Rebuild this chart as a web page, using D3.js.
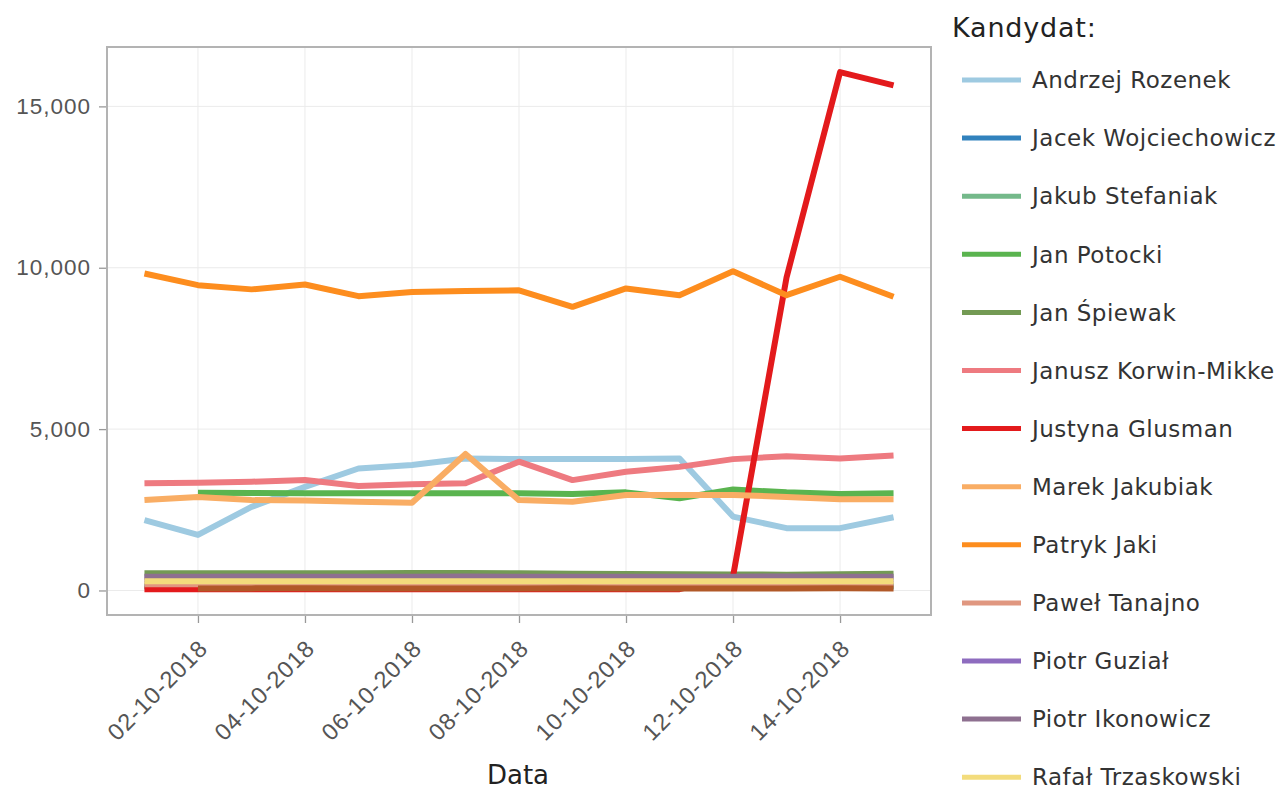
<!DOCTYPE html>
<html lang="pl">
<head>
<meta charset="utf-8">
<title>Kandydat</title>
<script src="https://cdn.jsdelivr.net/npm/d3@7"></script>
<style>
    body { margin: 0; background: #fff; }
    svg { display: block; font-family: "DejaVu Sans", Verdana, sans-serif; }
    .grid line { stroke: #ebebeb; stroke-width: 1; }
    .axis path { display: none; }
    .axis line { stroke: #999; stroke-width: 1.3; }
    .axis text { fill: #555; font-size: 22.5px; letter-spacing: 1px; }
    .axis.x text { font-size: 23.5px; }
</style>
</head>
<body>
<div id="chart"></div>
<script>
// dates (one sample per day)
const dates = ["2018-10-01", "2018-10-02", "2018-10-03", "2018-10-04", "2018-10-05",
    "2018-10-06", "2018-10-07", "2018-10-08", "2018-10-09", "2018-10-10",
    "2018-10-11", "2018-10-12", "2018-10-13", "2018-10-14", "2018-10-15"];

const candidates = ["Andrzej Rozenek", "Jacek Wojciechowicz", "Jakub Stefaniak", "Jan Potocki",
    "Jan Śpiewak", "Janusz Korwin-Mikke", "Justyna Glusman", "Marek Jakubiak", "Patryk Jaki",
    "Paweł Tanajno", "Piotr Guział", "Piotr Ikonowicz", "Rafał Trzaskowski", "Sławomir Antonik"];

const colors = ["#9ecae1", "#3182bd", "#74b98a", "#5ab44f", "#739a54", "#ee7a80", "#e31a1c",
    "#f9ad64", "#fd8d1e", "#e09780", "#8e6cbf", "#8e7090", "#f3dc7c", "#b15928"];

// values (null = no data that day)
const rozenek = [2180, 1720, 2590, 3210, 3780, 3890, 4090, 4070, 4070, 4070, 4090, 2290, 1930, 1930, 2270];
const wojciechowicz = [120, 122, 125, 120, 118, 122, 120, 118, 120, 122, 120, 118, 120, 122, 120];
const stefaniak = [150, 152, 150, 155, 150, 148, 150, 152, 150, 150, 148, 150, 152, 150, 150];
const potocki = [null, 3030, 3020, 3010, 3010, 3010, 3010, 3010, 2990, 3040, 2860, 3130, 3040, 2990, 3010];
const spiewak = [530, 530, 535, 535, 535, 540, 540, 530, 520, 510, 500, 495, 490, 500, 520];
const korwin = [3320, 3340, 3370, 3420, 3240, 3290, 3320, 3990, 3420, 3680, 3830, 4070, 4160, 4090, 4180];
const glusman = [40, 40, 40, 40, 40, 40, 40, 40, 40, 40, 40, 430, 9700, 16060, 15650];
const jakubiak = [2800, 2900, 2800, 2790, 2750, 2720, 4230, 2800, 2750, 2960, 2960, 2960, 2900, 2830, 2830];
const jaki = [9820, 9460, 9330, 9480, 9120, 9250, 9280, 9300, 8790, 9360, 9150, 9890, 9150, 9720, 9100];
const tanajno = [190, 190, 192, 190, 188, 190, 190, 192, 190, 188, 190, 190, 192, 190, 190];
const guzial = [350, 350, 352, 350, 348, 350, 350, 352, 350, 348, 350, 350, 352, 350, 350];
const ikonowicz = [425, 428, 430, 428, 425, 428, 430, 428, 425, 428, 425, 428, 430, 428, 425];
const trzaskowski = [285, 285, 288, 285, 282, 285, 285, 288, 285, 282, 285, 285, 288, 285, 285];
const antonik = [null, 65, 65, 66, 65, 64, 65, 65, 66, 65, 64, 65, 65, 66, 65];

const yTicks = [0, 5000, 10000, 15000];

const seriesValues = [rozenek, wojciechowicz, stefaniak, potocki, spiewak, korwin, glusman,
    jakubiak, jaki, tanajno, guzial, ikonowicz, trzaskowski, antonik];

const W = 1281, H = 789;
const plot = { left: 107, right: 931, top: 47, bottom: 615 };

const parse = d3.utcParse("%Y-%m-%d");
const days = dates.map(parse);
const dayMs = 864e5;

const x = d3.scaleUtc()
    .domain([new Date(+days[0] - 0.7 * dayMs), new Date(+days[days.length - 1] + 0.7 * dayMs)])
    .range([plot.left, plot.right]);

const y = d3.scaleLinear()
    .domain([-760, 16840])
    .range([plot.bottom, plot.top]);

const svg = d3.select("#chart").append("svg")
    .attr("width", W)
    .attr("height", H);

const xTickDates = days.filter((d, i) => i % 2 === 1);

// grid
const grid = svg.append("g").attr("class", "grid");
grid.selectAll(".gx").data(xTickDates).enter().append("line")
    .attr("x1", d => x(d)).attr("x2", d => x(d))
    .attr("y1", plot.top).attr("y2", plot.bottom);
grid.selectAll(".gy").data(yTicks).enter().append("line")
    .attr("x1", plot.left).attr("x2", plot.right)
    .attr("y1", d => y(d)).attr("y2", d => y(d));

// lines
const line = d3.line()
    .defined(d => d[1] != null)
    .x(d => x(d[0]))
    .y(d => y(d[1]));

const series = candidates.map((name, i) => ({
    name: name,
    color: colors[i],
    values: seriesValues[i].map((v, j) => [days[j], v])
}));

svg.append("g").selectAll("path").data(series).enter().append("path")
    .attr("fill", "none")
    .attr("stroke", d => d.color)
    .attr("stroke-width", 6)
    .attr("stroke-linejoin", "round")
    .attr("d", d => line(d.values));

// panel border
svg.append("rect")
    .attr("x", plot.left).attr("y", plot.top)
    .attr("width", plot.right - plot.left)
    .attr("height", plot.bottom - plot.top)
    .attr("fill", "none")
    .attr("stroke", "#b3b3b3")
    .attr("stroke-width", 2);

// axes
const yAxis = d3.axisLeft(y).tickValues(yTicks).tickSize(7).tickPadding(8)
    .tickFormat(d3.format(","));
svg.append("g").attr("class", "axis y")
    .attr("transform", `translate(${plot.left - 1},0)`)
    .call(yAxis);

const xAxis = d3.axisBottom(x).tickValues(xTickDates).tickSize(7)
    .tickFormat(d3.utcFormat("%d-%m-%Y"));
const gx = svg.append("g").attr("class", "axis x")
    .attr("transform", `translate(0,${plot.bottom + 1})`)
    .call(xAxis);
gx.selectAll("text")
    .attr("x", 0)
    .attr("y", 0)
    .attr("text-anchor", "end")
    .attr("dy", "0.35em")
    .attr("transform", "translate(5,28) rotate(-45)");

svg.append("text")
    .attr("x", (plot.left + plot.right) / 2 - 1)
    .attr("y", 784)
    .attr("text-anchor", "middle")
    .attr("fill", "#222")
    .attr("font-size", 26)
    .text("Data");

// legend (entries that do not fit in the window are clipped, like the original)
const legend = svg.append("g");
legend.append("text")
    .attr("x", 952).attr("y", 37)
    .attr("fill", "#222")
    .attr("font-size", 27)
    .attr("letter-spacing", 0.8)
    .text("Kandydat:");

const shown = series.filter((d, i) => 80 + i * 58.1 < H - 8);
const item = legend.selectAll(".item").data(shown).enter().append("g")
    .attr("transform", (d, i) => `translate(0,${80 + i * 58.1})`);
item.append("line")
    .attr("x1", 962).attr("x2", 1021)
    .attr("stroke", d => d.color)
    .attr("stroke-width", 5);
item.append("text")
    .attr("x", 1032)
    .attr("dy", "0.36em")
    .attr("fill", "#333")
    .attr("font-size", 23)
    .attr("letter-spacing", 0.5)
    .text(d => d.name);
</script>
</body>
</html>
